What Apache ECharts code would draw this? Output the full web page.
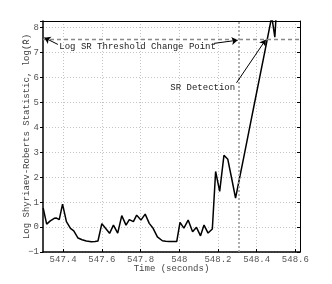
<!DOCTYPE html>
<html><head><meta charset="utf-8">
<script src="https://cdn.jsdelivr.net/npm/echarts@6/dist/echarts.min.js"></script>
<style>html,body{margin:0;padding:0;background:#fff}#c{width:332px;height:284px}</style>
</head><body><div id="c"></div>
<script>
const timeValues = [547.297,547.315,547.332,547.354,547.366,547.380,547.397,547.417,547.438,547.455,547.477,547.498,547.520,547.546,547.565,547.580,547.600,547.619,547.640,547.660,547.682,547.703,547.725,547.742,547.763,547.780,547.802,547.824,547.845,547.865,547.887,547.913,547.930,547.950,547.970,547.987,548.004,548.024,548.046,548.069,548.089,548.110,548.128,548.149,548.171,548.188,548.209,548.231,548.251,548.271,548.291,548.312,548.332,548.353,548.373,548.394,548.414,548.435,548.455,548.478,548.494,548.512];
const logSR = [0.76,0.12,0.24,0.35,0.36,0.30,0.92,0.22,-0.05,-0.15,-0.44,-0.51,-0.56,-0.59,-0.58,-0.56,0.14,-0.05,-0.25,0.08,-0.24,0.46,0.08,0.30,0.22,0.48,0.28,0.52,0.15,-0.05,-0.39,-0.55,-0.57,-0.58,-0.58,-0.58,0.19,-0.04,0.28,-0.19,-0.01,-0.35,0.08,-0.24,-0.08,2.23,1.43,2.88,2.72,1.95,1.16,1.98,2.75,3.57,4.35,5.17,5.95,6.76,7.54,8.45,7.62,10.0];
const xTicks = [547.4,547.6,547.8,548,548.2,548.4,548.6];
const threshold = 7.55;
const detectionTime = 548.31;
const annotations = {
  thresholdText: 'Log SR Threshold Change Point',
  detectionText: 'SR Detection'
};

const FONT = 'Liberation Mono';
const chart = echarts.init(document.getElementById('c'), null, {renderer:'canvas'});
const pts = timeValues.map((t,i)=>[t, logSR[i]]);
const xMin = 547.296, xMax = 548.624, yMin = -1, yMax = 8.27;
const grid = {left:43, right:32, top:21, bottom:32};
const gridLine = {show:true, lineStyle:{color:'#c4c4c4', type:[1,2], width:1}};

chart.setOption({
  animation:false,
  backgroundColor:'#fff',
  grid: grid,
  xAxis: [{
    type:'value', min:xMin, max:xMax, position:'bottom',
    name:'Time (seconds)', nameLocation:'middle', nameGap:12, nameMoveOverlap:false,
    nameTextStyle:{fontFamily:FONT, fontSize:9, color:'#444'},
    axisLine:{show:true, onZero:false, lineStyle:{color:'#000', width:1.5}},
    axisTick:{show:true, inside:true, length:3, customValues:xTicks, lineStyle:{color:'#000'}},
    axisLabel:{customValues:xTicks, fontFamily:FONT, fontSize:9, color:'#555', margin:3},
    splitLine:gridLine
  },{
    type:'value', min:xMin, max:xMax, position:'top',
    axisLine:{show:true, onZero:false, lineStyle:{color:'#000', width:1}},
    axisTick:{show:false}, axisLabel:{show:false}, splitLine:{show:false}
  }],
  yAxis: [{
    type:'value', min:yMin, max:yMax, interval:1, position:'left',
    name:'Log Shyriaev-Roberts Statistic, log(R\u0304)', nameLocation:'middle', nameGap:12, nameMoveOverlap:false,
    nameTextStyle:{fontFamily:FONT, fontSize:9, color:'#444'},
    axisLine:{show:true, onZero:false, lineStyle:{color:'#000', width:1.5}},
    axisTick:{show:true, inside:false, length:3, lineStyle:{color:'#000'}},
    axisLabel:{fontFamily:FONT, fontSize:9, color:'#555', margin:4,
      formatter:v=> Math.abs(v-Math.round(v))<1e-9 ? String(Math.round(v)).replace('-','\u2212') : ''},
    splitLine:gridLine
  },{
    type:'value', min:yMin, max:yMax, interval:1, position:'right',
    axisLine:{show:true, onZero:false, lineStyle:{color:'#000', width:1}},
    axisTick:{show:true, inside:true, length:3, lineStyle:{color:'#000'}},
    axisLabel:{show:false}, splitLine:{show:false}
  }],
  series: [{
    type:'line', data:[], xAxisIndex:0, yAxisIndex:0, silent:true,
    markLine:{silent:true, symbol:'none', animation:false, label:{show:false},
      data:[
        {yAxis:threshold, lineStyle:{color:'#888', type:[4,3], width:1.3}},
        {xAxis:detectionTime, lineStyle:{color:'#999', type:[2,2], width:1.6}}
      ]}
  },{
    type:'line', data:pts, xAxisIndex:0, yAxisIndex:0, showSymbol:false, symbol:'none',
    clip:true, lineStyle:{color:'#000', width:1.5}, silent:true,
    markLine:{silent:true, symbol:['none','arrow'], symbolSize:6, animation:false,
      label:{show:false}, lineStyle:{color:'#000', type:'solid', width:1},
      data:[
        [{coord:[547.373,7.33]},{coord:[547.303,7.60]}],
        [{coord:[548.178,7.37]},{coord:[548.302,7.50]}],
        [{coord:[548.296,5.79]},{coord:[548.447,7.52]}]
      ]},
    markPoint:{silent:true, animation:false, symbol:'circle', symbolSize:0,
      data:[
        {coord:[547.375,7.26], label:{show:true, formatter:annotations.thresholdText, position:'right', distance:1, fontFamily:FONT, fontSize:9, color:'#222'}},
        {coord:[548.294,5.58], label:{show:true, formatter:annotations.detectionText, position:'left', distance:1, fontFamily:FONT, fontSize:9, color:'#222'}}
      ]}
  }]
});
</script></body></html>
